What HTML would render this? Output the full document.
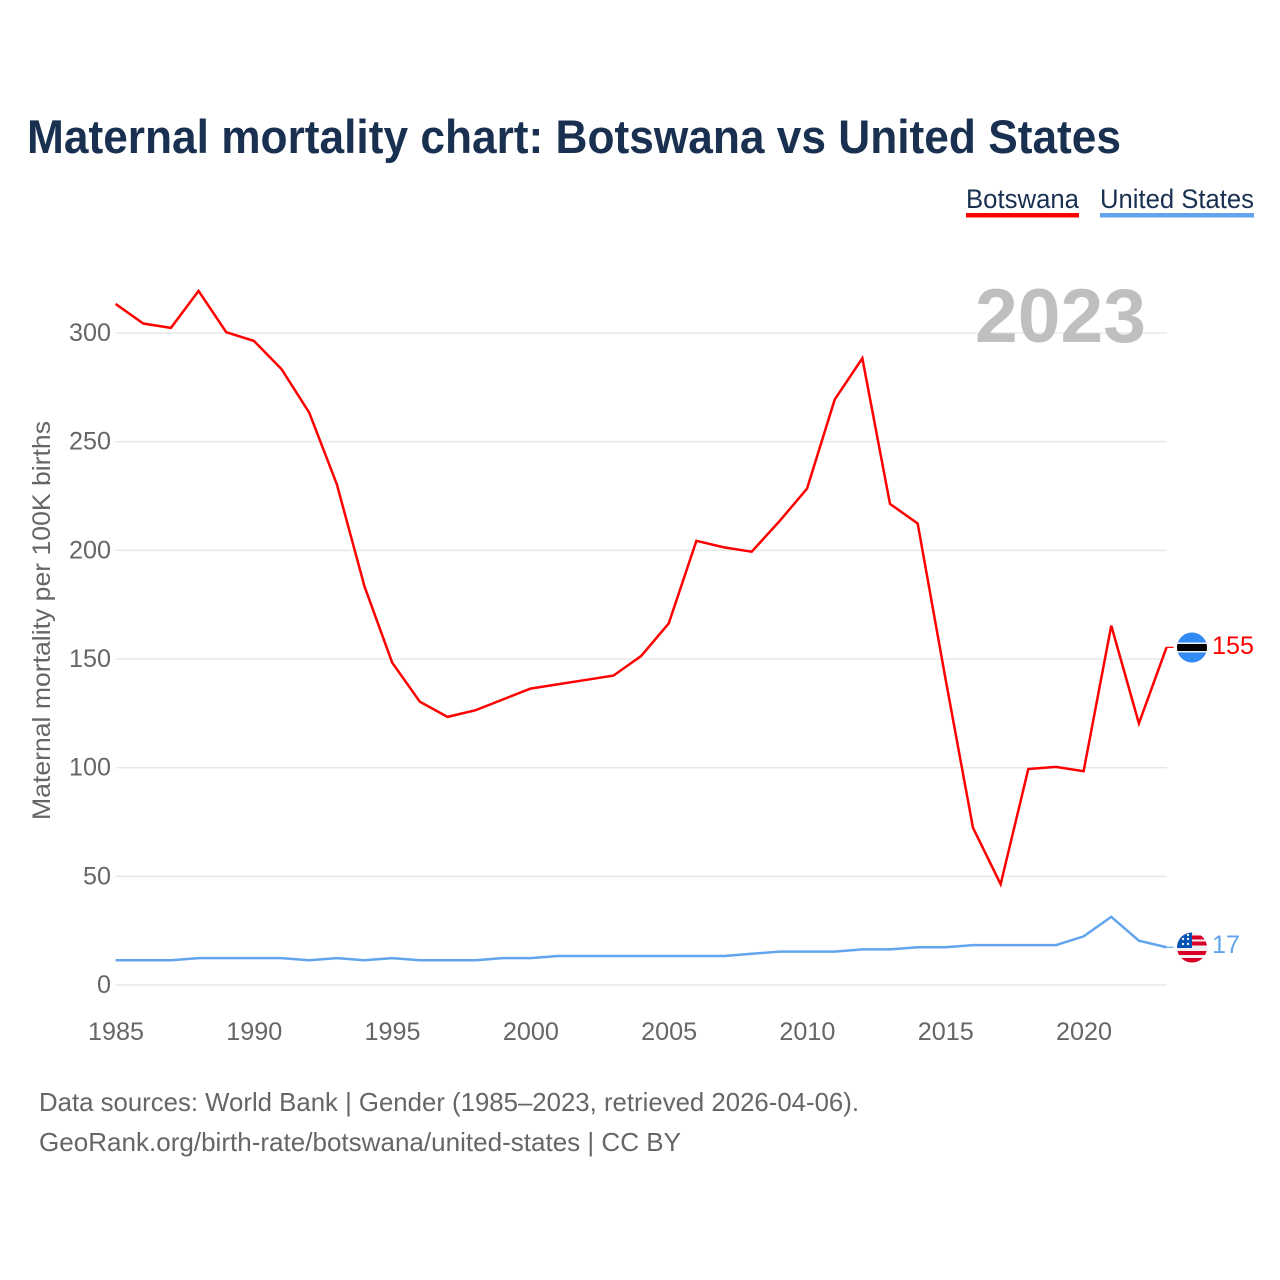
<!DOCTYPE html>
<html lang="en">
<head>
<meta charset="utf-8">
<title>Maternal mortality chart: Botswana vs United States</title>
<style>
html,body{margin:0;padding:0;background:#fff;}
svg{display:block;}
text{font-family:"Liberation Sans",sans-serif;}
</style>
</head>
<body>
<svg id="chart" xmlns="http://www.w3.org/2000/svg" width="1280" height="1280" viewBox="0 0 1280 1280">
<defs>
<clipPath id="flag-clip-bw"><circle cx="1192" cy="647.5" r="15"/></clipPath>
<clipPath id="flag-clip-us"><circle cx="1192" cy="947.5" r="15"/></clipPath>
</defs>
<rect width="1280" height="1280" fill="#fff"/>
<text x="27" y="153" font-size="47" font-weight="700" fill="#1a3050" textLength="1094" lengthAdjust="spacingAndGlyphs">Maternal mortality chart: Botswana vs United States</text>

<g>
<g>
<text x="966" y="208" font-size="27" fill="#1a3050" textLength="113" lengthAdjust="spacingAndGlyphs">Botswana</text>
<rect x="966" y="213" width="113" height="4.5" fill="#ff0000"/>
</g>
<g>
<text x="1100" y="208" font-size="27" fill="#1a3050" textLength="154" lengthAdjust="spacingAndGlyphs">United States</text>
<rect x="1100" y="213" width="154" height="4.5" fill="#62a5ee"/>
</g>
</g>

<g id="grid"></g>
<g id="yticks"></g>
<g id="xticks"></g>

<text transform="translate(50,820) rotate(-90)" x="0" y="0" font-size="25" fill="#666666" textLength="399" lengthAdjust="spacingAndGlyphs">Maternal mortality per 100K births</text>

<text x="975" y="342" font-size="76" font-weight="700" fill="#bfbfbf" textLength="171" lengthAdjust="spacingAndGlyphs">2023</text>

<g id="series" transform="translate(-0.4,-0.8)"></g>

<g clip-path="url(#flag-clip-bw)">
<rect x="1177" y="632" width="30" height="31" fill="#338af3"/>
<rect x="1177" y="642.5" width="30" height="10" fill="#f0f0f0"/>
<rect x="1177" y="644" width="30" height="7" fill="#000"/>
</g>
<g clip-path="url(#flag-clip-us)">
<rect x="1177" y="932" width="30" height="31" fill="#f0f0f0"/>
<rect x="1177" y="935.5" width="30" height="4" fill="#d80027"/>
<rect x="1177" y="941.5" width="30" height="4" fill="#d80027"/>
<rect x="1177" y="951" width="30" height="4" fill="#d80027"/>
<rect x="1177" y="958" width="30" height="5" fill="#d80027"/>
<rect x="1177" y="932" width="15" height="16" fill="#0052b4"/>
<circle cx="1183" cy="939" r="1.2" fill="#f0f0f0"/>
<circle cx="1188" cy="939" r="1.2" fill="#f0f0f0"/>
<circle cx="1188" cy="935" r="1.2" fill="#f0f0f0"/>
<circle cx="1183" cy="944" r="1.2" fill="#f0f0f0"/>
<circle cx="1188" cy="944" r="1.2" fill="#f0f0f0"/>
</g>

<text id="label-bw" x="1212" y="654" font-size="25" fill="#ff0000" textLength="42" lengthAdjust="spacingAndGlyphs"></text>
<text id="label-us" x="1212" y="953" font-size="25" fill="#62a5ee" textLength="28" lengthAdjust="spacingAndGlyphs"></text>

<text x="39" y="1111" font-size="26" fill="#666666" textLength="820" lengthAdjust="spacingAndGlyphs">Data sources: World Bank | Gender (1985–2023, retrieved 2026-04-06).</text>
<text x="39" y="1151" font-size="26" fill="#666666" textLength="642" lengthAdjust="spacingAndGlyphs">GeoRank.org/birth-rate/botswana/united-states | CC BY</text>
</svg>
<script>
const years = [1985,1986,1987,1988,1989,1990,1991,1992,1993,1994,1995,1996,1997,1998,1999,2000,2001,2002,2003,2004,2005,2006,2007,2008,2009,2010,2011,2012,2013,2014,2015,2016,2017,2018,2019,2020,2021,2022,2023];
const botswanaValues = [313,304,302,319,300,296,283,263,230,183,148,130,123,126,131,136,138,140,142,151,166,204,201,199,213,228,269,288,221,212,141,72,46,99,100,98,165,120,155];
const unitedStatesValues = [11,11,11,12,12,12,12,11,12,11,12,11,11,11,12,12,13,13,13,13,13,13,13,14,15,15,15,16,16,17,17,18,18,18,18,22,31,20,17];
const yTickValues = [0,50,100,150,200,250,300];
const xTickValues = [1985,1990,1995,2000,2005,2010,2015,2020];

const NS = 'http://www.w3.org/2000/svg';
const xScale = function (year) { return 116 + (year - 1985) * (1084 - 116) / 35; };
const yScale = function (value) { return 985 - value * (985 - 333) / 300; };

const grid = document.getElementById('grid');
const yticks = document.getElementById('yticks');
const xticks = document.getElementById('xticks');
const series = document.getElementById('series');

yTickValues.forEach(function (v) {
  const line = document.createElementNS(NS, 'line');
  
  
  line.setAttribute('x1', 116);
  line.setAttribute('x2', 1167);
  line.setAttribute('y1', yScale(v));
  line.setAttribute('y2', yScale(v));
  line.setAttribute('stroke', '#e8e8e8');
  line.setAttribute('stroke-width', '1.5');
  grid.appendChild(line);

  const t = document.createElementNS(NS, 'text');
  
  
  const label = String(v);
  const w = label.length * 14;
  t.setAttribute('x', 111 - w);
  t.setAttribute('y', yScale(v) + 8);
  t.setAttribute('font-size', '25');
  t.setAttribute('fill', '#666666');
  t.setAttribute('textLength', w);
  t.setAttribute('lengthAdjust', 'spacingAndGlyphs');
  t.textContent = label;
  yticks.appendChild(t);
});

xTickValues.forEach(function (v) {
  const t = document.createElementNS(NS, 'text');
  
  
  t.setAttribute('x', xScale(v) - 28);
  t.setAttribute('y', 1040);
  t.setAttribute('font-size', '25');
  t.setAttribute('fill', '#666666');
  t.setAttribute('textLength', 56);
  t.setAttribute('lengthAdjust', 'spacingAndGlyphs');
  t.textContent = String(v);
  xticks.appendChild(t);
});

function buildPoints(values) {
  return values.map(function (v, i) {
    return xScale(years[i]).toFixed(2) + ',' + yScale(v).toFixed(2);
  }).join(' ');
}

const bwLine = document.createElementNS(NS, 'polyline');


bwLine.setAttribute('points', buildPoints(botswanaValues));
bwLine.setAttribute('fill', 'none');
bwLine.setAttribute('stroke', '#ff0000');
bwLine.setAttribute('stroke-width', '2.5');
series.appendChild(bwLine);

const usLine = document.createElementNS(NS, 'polyline');


usLine.setAttribute('points', buildPoints(unitedStatesValues));
usLine.setAttribute('fill', 'none');
usLine.setAttribute('stroke', '#62a5ee');
usLine.setAttribute('stroke-width', '2.5');
series.appendChild(usLine);

const lastYear = years[years.length - 1];
const bwLast = botswanaValues[botswanaValues.length - 1];
const usLast = unitedStatesValues[unitedStatesValues.length - 1];

const bwLeader = document.createElementNS(NS, 'line');


bwLeader.setAttribute('x1', xScale(lastYear));
bwLeader.setAttribute('x2', 1174);
bwLeader.setAttribute('y1', yScale(bwLast));
bwLeader.setAttribute('y2', yScale(bwLast));
bwLeader.setAttribute('stroke', '#ff0000');
bwLeader.setAttribute('stroke-width', '1.2');
series.appendChild(bwLeader);

const usLeader = document.createElementNS(NS, 'line');


usLeader.setAttribute('x1', xScale(lastYear));
usLeader.setAttribute('x2', 1174);
usLeader.setAttribute('y1', yScale(usLast));
usLeader.setAttribute('y2', yScale(usLast));
usLeader.setAttribute('stroke', '#62a5ee');
usLeader.setAttribute('stroke-width', '1.2');
series.appendChild(usLeader);

document.getElementById('label-bw').textContent = String(bwLast);
document.getElementById('label-us').textContent = String(usLast);
</script>
</body>
</html>
